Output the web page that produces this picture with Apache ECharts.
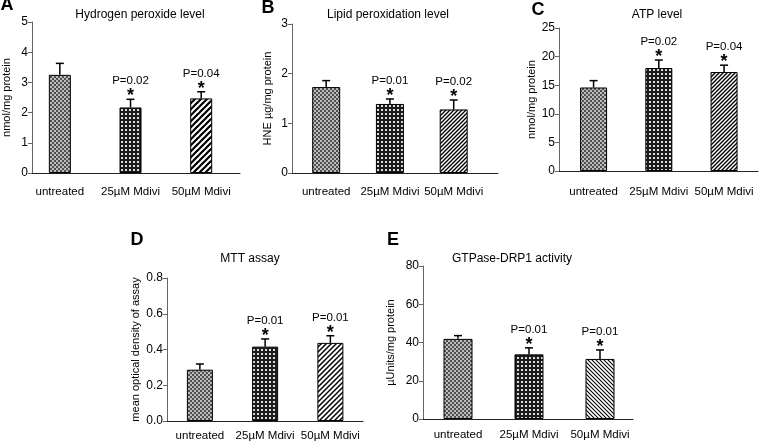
<!DOCTYPE html>
<html><head><meta charset="utf-8">
<script src="https://cdn.jsdelivr.net/npm/echarts@6/dist/echarts.min.js"></script>
<style>html,body{margin:0;padding:0;background:#fff}#c{width:760px;height:446px}</style>
</head><body><div id="c"></div>
<script>
// ---- data ----
const categories = ['untreated', '25\u00b5M Mdivi', '50\u00b5M Mdivi'];

const h2o2Mean = [3.25, 2.17, 2.47];
const h2o2Err  = [0.38, 0.27, 0.22];
const h2o2P    = ['', 'P=0.02', 'P=0.04'];
const h2o2Ticks = [0, 1, 2, 3, 4, 5];

const lipidMean = [1.73, 1.39, 1.28];
const lipidErr  = [0.13, 0.10, 0.19];
const lipidP    = ['', 'P=0.01', 'P=0.02'];
const lipidTicks = [0, 1, 2, 3];

const atpMean = [14.6, 18.0, 17.3];
const atpErr  = [1.2, 1.4, 1.2];
const atpP    = ['', 'P=0.02', 'P=0.04'];
const atpTicks = [0, 5, 10, 15, 20, 25];

const mttMean = [0.287, 0.416, 0.437];
const mttErr  = [0.032, 0.043, 0.040];
const mttP    = ['', 'P=0.01', 'P=0.01'];
const mttTicks = [0.0, 0.2, 0.4, 0.6, 0.8];

const drpMean = [41.9, 33.8, 31.4];
const drpErr  = [1.7, 3.4, 4.7];
const drpP    = ['', 'P=0.01', 'P=0.01'];
const drpTicks = [0, 20, 40, 60, 80];

// ---- patterns ----
function mk(w, h, draw) {
  const c = document.createElement('canvas'); c.width = w; c.height = h;
  const g = c.getContext('2d'); draw(g, w, h);
  return { image: c, repeat: 'repeat' };
}
function checker(a, b, cell) {
  return mk(cell * 2, cell * 2, (g) => {
    g.fillStyle = a; g.fillRect(0, 0, cell * 2, cell * 2);
    g.fillStyle = b; g.fillRect(0, 0, cell, cell); g.fillRect(cell, cell, cell, cell);
  });
}
function dots(bg, fg, period, size) {
  return mk(period, period, (g) => {
    g.fillStyle = bg; g.fillRect(0, 0, period, period);
    g.fillStyle = fg; g.fillRect(1, 1, size, size);
  });
}
function hatch(period, lw, dir) {
  return mk(period, period, (g, w, h) => {
    g.fillStyle = '#fff'; g.fillRect(0, 0, w, h);
    g.strokeStyle = '#000'; g.lineWidth = lw;
    const segs = dir === '/' ?
      [[-w, 2 * h, 2 * w, -h], [-w, h, w, -h], [0, 2 * h, 2 * w, 0]] :
      [[-w, -h, 2 * w, 2 * h], [-w, 0, w, 2 * h], [0, -h, 2 * w, h]];
    segs.forEach(s => { g.beginPath(); g.moveTo(s[0], s[1]); g.lineTo(s[2], s[3]); g.stroke(); });
  });
}
const patUntreated = checker('#505050', '#bcbcbc', 2);
const pat25 = dots('#1c1c1c', '#dcdcdc', 4, 2);

const FONT = '"Liberation Sans", Arial, Helvetica, sans-serif';

const panels = [
  { letter: 'A', title: 'Hydrogen peroxide level', yName: 'nmol/mg protein',
    mean: h2o2Mean, err: h2o2Err, p: h2o2P, ticks: h2o2Ticks, dec: 0,
    grid: { left: 31, top: 22, width: 209, height: 151 }, xmin: -0.394, xmax: 2.549,
    barW: 22, nameGap: 20, labelMargin: 13, titleXY: [140, 15], letterXY: [7, 5],
    pats: [patUntreated, pat25, hatch(6, 2.2, '/')] },
  { letter: 'B', title: 'Lipid peroxidation level', yName: 'HNE \u00b5g/mg protein',
    mean: lipidMean, err: lipidErr, p: lipidP, ticks: lipidTicks, dec: 0,
    grid: { left: 292, top: 24, width: 206, height: 149 }, xmin: -0.536, xmax: 2.695,
    barW: 28, nameGap: 19, labelMargin: 13, titleXY: [388, 15], letterXY: [268, 8],
    pats: [patUntreated, pat25, hatch(4, 1.3, '/')] },
  { letter: 'C', title: 'ATP level', yName: 'nmol/mg protein',
    mean: atpMean, err: atpErr, p: atpP, ticks: atpTicks, dec: 0,
    grid: { left: 559, top: 28, width: 199, height: 143 }, xmin: -0.53, xmax: 2.52,
    barW: 27, nameGap: 21, labelMargin: 15, titleXY: [657, 15], letterXY: [538, 10],
    pats: [patUntreated, pat25, hatch(4, 1.3, '/')] },
  { letter: 'D', title: 'MTT assay', yName: 'mean optical density of assay',
    mean: mttMean, err: mttErr, p: mttP, ticks: mttTicks, dec: 1,
    grid: { left: 167, top: 278, width: 196, height: 143 }, xmin: -0.504, xmax: 2.5,
    barW: 26, nameGap: 26, labelMargin: 9, titleXY: [250, 259], letterXY: [137, 240],
    pats: [patUntreated, pat25, hatch(5, 1.5, '/')] },
  { letter: 'E', title: 'GTPase-DRP1 activity', yName: '\u00b5Units/mg protein',
    mean: drpMean, err: drpErr, p: drpP, ticks: drpTicks, dec: 0,
    grid: { left: 423, top: 266, width: 210, height: 153 }, xmin: -0.493, xmax: 2.465,
    barW: 29, nameGap: 27, labelMargin: 10, titleXY: [512, 259], letterXY: [393, 240],
    pats: [patUntreated, pat25, hatch(4, 1.1, '\\')] }
];

const option = { animation: false, backgroundColor: '#fff',
  grid: [], xAxis: [], yAxis: [], series: [], graphic: [] };

panels.forEach((pn, i) => {
  option.grid.push(Object.assign({ containLabel: false }, pn.grid));
  option.xAxis.push({
    type: 'value', gridIndex: i, min: pn.xmin, max: pn.xmax,
    axisLine: { show: true, onZero: false, lineStyle: { color: '#222', width: 1 } },
    axisTick: { show: false }, splitLine: { show: false },
    axisLabel: { customValues: [0, 1, 2], formatter: v => categories[Math.round(v)],
      color: '#000', fontSize: 11.5, fontFamily: FONT, margin: pn.labelMargin }
  });
  const t = pn.ticks;
  option.yAxis.push({
    type: 'value', gridIndex: i, min: t[0], max: t[t.length - 1], interval: t[1] - t[0],
    name: pn.yName, nameLocation: 'middle', nameGap: pn.nameGap,
    nameTextStyle: { color: '#000', fontSize: 11, fontFamily: FONT },
    axisLine: { show: true, onZero: false, lineStyle: { color: '#666', width: 1 } },
    axisTick: { show: true, inside: false, length: 4, lineStyle: { color: '#666' } },
    splitLine: { show: false },
    axisLabel: { color: '#000', fontSize: 12, fontFamily: FONT, margin: 4,
      formatter: v => v.toFixed(pn.dec) }
  });
  option.series.push({
    type: 'bar', xAxisIndex: i, yAxisIndex: i, barWidth: pn.barW,
    data: pn.mean.map((v, k) => ({ value: [k, v],
      itemStyle: { color: pn.pats[k], borderColor: '#000', borderWidth: 1 } }))
  });
  option.series.push({
    type: 'custom', xAxisIndex: i, yAxisIndex: i, z: 10,
    data: pn.mean.map((v, k) => [k, v, pn.err[k]]),
    encode: { x: 0, y: 1 },
    renderItem: (params, api) => {
      const k = api.value(0), v = api.value(1), e = api.value(2);
      const p0 = api.coord([k, v]);
      const p1 = api.coord([k, v + e]);
      const ch = [
        { type: 'line', shape: { x1: p0[0], y1: p0[1], x2: p1[0], y2: p1[1] }, style: { stroke: '#000', lineWidth: 1.5 } },
        { type: 'line', shape: { x1: p1[0] - 4, y1: p1[1], x2: p1[0] + 4, y2: p1[1] }, style: { stroke: '#000', lineWidth: 1.5 } }
      ];
      const lab = pn.p[params.dataIndex];
      if (lab) {
        ch.push({ type: 'text', style: { text: '*', x: p1[0], y: p1[1] - 3, textAlign: 'center', textVerticalAlign: 'middle',
          font: 'bold 18px ' + FONT, fill: '#000' } });
        ch.push({ type: 'text', style: { text: lab, x: p1[0], y: p1[1] - 18, textAlign: 'center', textVerticalAlign: 'middle',
          font: '11.5px ' + FONT, fill: '#000' } });
      }
      return { type: 'group', children: ch };
    }
  });
  option.graphic.push({ type: 'text', style: { text: pn.title, x: pn.titleXY[0], y: pn.titleXY[1],
    textAlign: 'center', textVerticalAlign: 'middle', font: '12px ' + FONT, fill: '#000' } });
  option.graphic.push({ type: 'text', style: { text: pn.letter, x: pn.letterXY[0], y: pn.letterXY[1],
    textAlign: 'center', textVerticalAlign: 'middle', font: 'bold 18px ' + FONT, fill: '#000' } });
});

const chart = echarts.init(document.getElementById('c'), null, { renderer: 'canvas' });
chart.setOption(option);
</script></body></html>
